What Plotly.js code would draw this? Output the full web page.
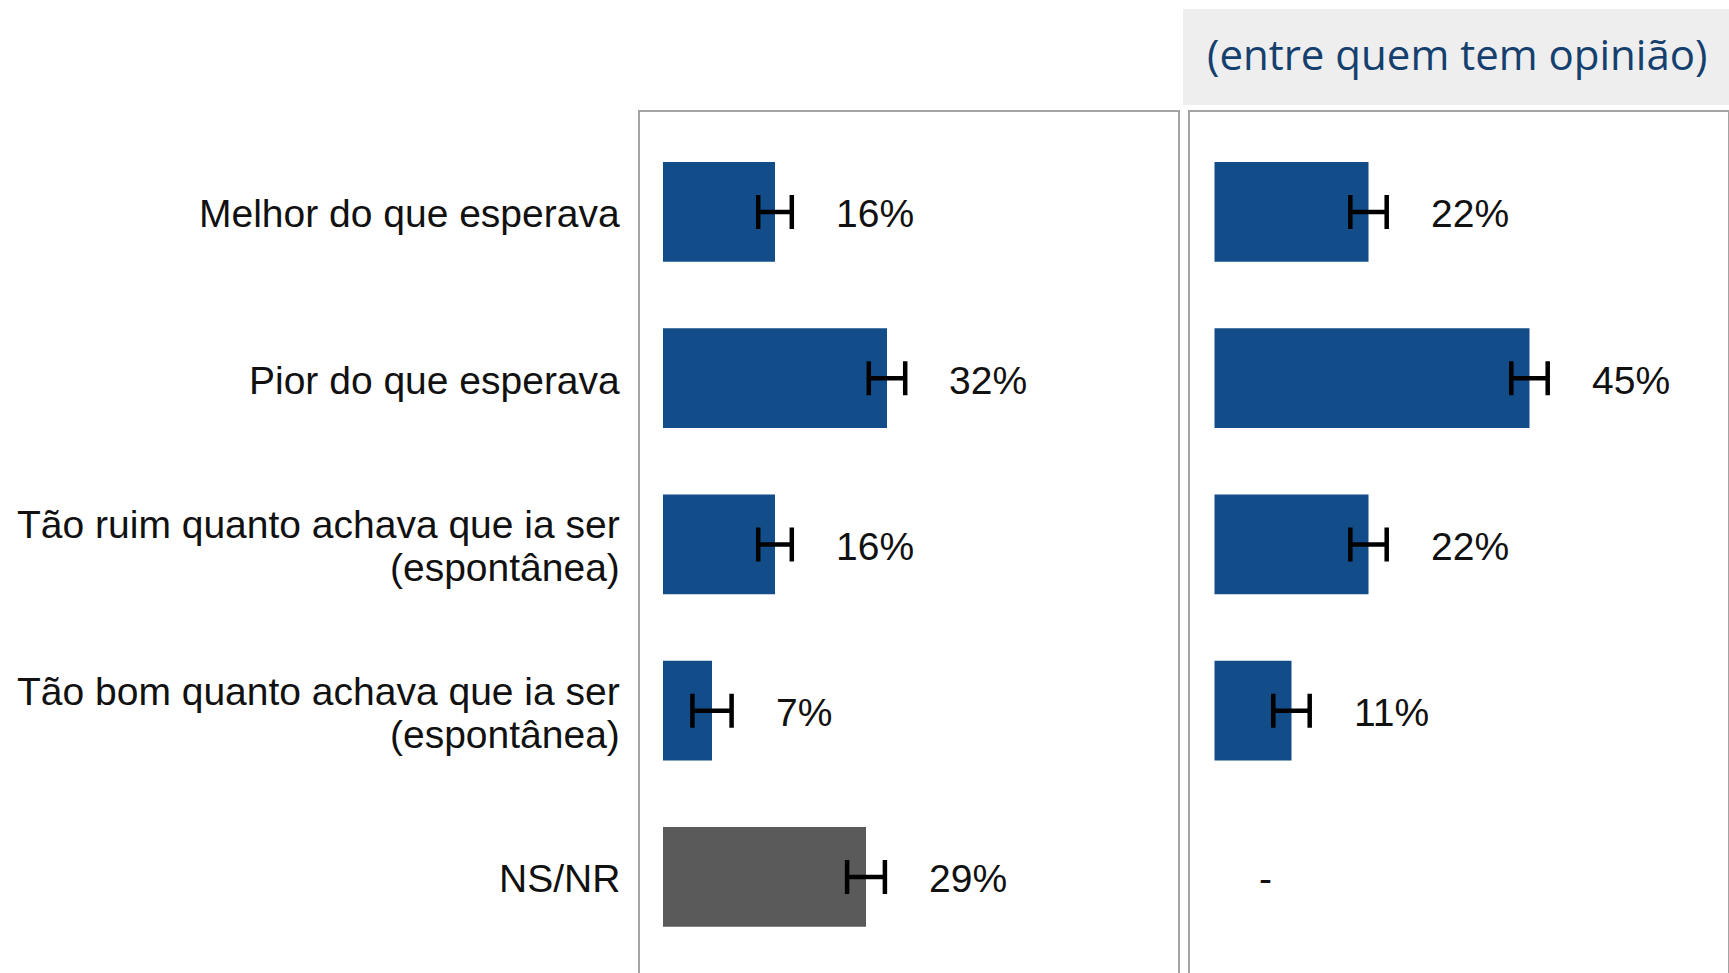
<!DOCTYPE html>
<html><head><meta charset="utf-8">
<script src="https://cdn.plot.ly/plotly-3.0.1.min.js"></script>
<style>html,body{margin:0;padding:0;background:#fff;overflow:hidden}</style>
</head><body><div id="chart" style="width:1729px;height:973px"></div>
<script>
const categories = ["Melhor do que esperava", "Pior do que esperava", "Tão ruim quanto achava que ia ser<br>(espontânea)", "Tão bom quanto achava que ia ser<br>(espontânea)", "NS/NR"];
const totalValues = [16, 32, 16, 7, 29];
const totalErrors = [2.4, 2.6, 2.4, 2.8, 2.7];
const totalLabels = ["16%", "32%", "16%", "7%", "29%"];
const opinionValues = [22, 45, 22, 11, null];
const opinionErrors = [2.6, 2.6, 2.6, 2.6, null];
const opinionLabels = ["22%", "45%", "22%", "11%", "-"];
const barColors = ["#134d89", "#134d89", "#134d89", "#134d89", "#5a5a5a"];
const titleText = "(entre quem tem opinião)";

const W = 1729, H = 973;
const FONT = "Liberation Sans, Arial, sans-serif";

function barTrace(vals, errs, xa, ya) {
  return {
    type: 'bar', orientation: 'h',
    x: vals, y: categories, xaxis: xa, yaxis: ya,
    width: 0.6,
    marker: {color: barColors, line: {width: 0}},
    error_x: {type: 'data', array: errs, visible: true, color: '#000', thickness: 4.5, width: 17},
    hoverinfo: 'skip', showlegend: false
  };
}

const annotations = [];
categories.forEach((c, i) => {
  const lines = c.split('<br>');
  const n = lines.length;
  lines.forEach((ln, j) => {
    annotations.push({
      xref: 'paper', yref: 'y', x: 622 / W, y: i, xanchor: 'right', yanchor: 'middle',
      yshift: ((n - 1) / 2 - j) * 43 - 2,
      text: ln, showarrow: false, font: {family: FONT, size: 39, color: '#111'}
    });
  });
});
function valueLabels(vals, errs, labels, xr, yr) {
  labels.forEach((t, i) => {
    annotations.push({
      xref: xr, yref: yr, x: (vals[i] || 0) + (errs[i] || 0), y: i,
      xanchor: 'left', yanchor: 'middle', xshift: 42, yshift: -2,
      text: t, showarrow: false, font: {family: FONT, size: 39, color: '#111'}
    });
  });
}
valueLabels(totalValues, totalErrors, totalLabels, 'x', 'y');
valueLabels(opinionValues, opinionErrors, opinionLabels, 'x2', 'y2');

annotations.push({
  xref: 'paper', yref: 'paper', x: 1457 / W, y: 1 - 54 / H, xanchor: 'center', yanchor: 'middle',
  text: titleText, showarrow: false, font: {family: 'Open Sans, sans-serif', size: 42, color: '#15406e'}
});

const k = 7.0;
const yTop = 1 - 112 / H;
const lineStyle = {showline: true, linecolor: '#a3a3a3', linewidth: 2};
const layout = {
  width: W, height: H,
  margin: {l: 0, r: 0, t: 0, b: 0},
  paper_bgcolor: '#fff', plot_bgcolor: '#fff',
  xaxis: Object.assign({domain: [640 / W, 1178 / W], range: [-23 / k, (1178 - 663) / k], side: 'top', anchor: 'y',
    showgrid: false, zeroline: false, showticklabels: false, ticks: ''}, lineStyle),
  xaxis2: Object.assign({domain: [1190 / W, 1728 / W], range: [-24.5 / k, (1728 - 1214.5) / k], side: 'top', anchor: 'y2',
    showgrid: false, zeroline: false, showticklabels: false, ticks: ''}, lineStyle),
  yaxis: Object.assign({domain: [0, yTop], range: [4.5775, -0.6015], anchor: 'x', mirror: true,
    showgrid: false, zeroline: false, showticklabels: false, ticks: '', type: 'category'}, lineStyle),
  yaxis2: Object.assign({domain: [0, yTop], range: [4.5775, -0.6015], anchor: 'x2', mirror: true,
    showgrid: false, zeroline: false, showticklabels: false, ticks: '', type: 'category'}, lineStyle),
  shapes: [{
    type: 'rect', xref: 'paper', yref: 'paper', layer: 'below',
    x0: 1183 / W, x1: 1, y0: 1 - 105 / H, y1: 1 - 9 / H,
    fillcolor: '#eeeeee', line: {width: 0}
  }],
  annotations: annotations
};

Plotly.newPlot('chart', [
  barTrace(totalValues, totalErrors, 'x', 'y'),
  barTrace(opinionValues, opinionErrors, 'x2', 'y2')
], layout, {displayModeBar: false, staticPlot: true});
</script>
</body></html>
